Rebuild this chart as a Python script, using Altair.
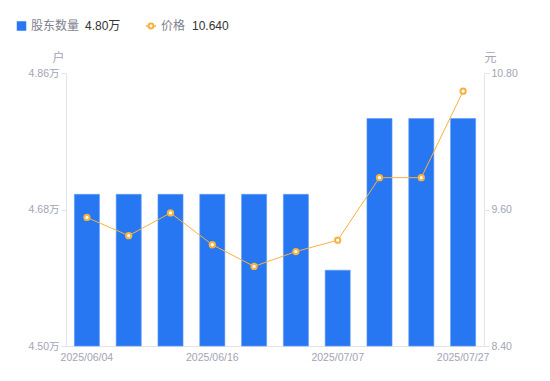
import altair as alt
import pandas as pd

dates = ["2025/06/04", "2025/06/09", "2025/06/12", "2025/06/16", "2025/06/20",
         "2025/06/30", "2025/07/07", "2025/07/10", "2025/07/18", "2025/07/27"]
holders = [4.70, 4.70, 4.70, 4.70, 4.70, 4.70, 4.60, 4.80, 4.80, 4.80]  # 万户
prices = [9.53, 9.37, 9.57, 9.29, 9.10, 9.23, 9.33, 9.88, 9.88, 10.64]
shown_dates = [dates[0], dates[3], dates[6], dates[9]]

FONT = "Liberation Sans, Noto Sans CJK SC, sans-serif"
BLUE = "#2877F2"
ORANGE = "#F6B23E"
AXIS_GRAY = "#E2E2E8"
LABEL_GRAY = "#A3A3B5"

df = pd.DataFrame({"date": dates, "holders": holders, "price": prices})

x_axis = alt.Axis(values=shown_dates, labelAngle=0, ticks=False, labelPadding=6,
                  domainColor=AXIS_GRAY, labelColor=LABEL_GRAY, labelFontSize=10.5,
                  labelFont=FONT, labelOverlap=False)
x_scale = alt.Scale(paddingInner=0.4, paddingOuter=0.2)


def X():
    return alt.X("date:N", sort=dates, title=None, scale=x_scale, axis=x_axis)


bars = alt.Chart(df).transform_calculate(base="4.5").mark_bar(
    color=BLUE, stroke="#5E9BF5", strokeWidth=0.6).encode(
    x=X(),
    y=alt.Y("holders:Q", scale=alt.Scale(domain=[4.50, 4.86], zero=False, nice=False),
            axis=alt.Axis(values=[4.50, 4.68, 4.86], grid=False, orient="left",
                          labelExpr="format(datum.value, '.2f') + '万'",
                          title="户", titleAngle=0, titleX=-8, titleY=-16,
                          titleAlign="center", titleBaseline="middle",
                          titleColor=LABEL_GRAY, titleFontWeight="normal", titleFontSize=12,
                          titleFont=FONT,
                          domainColor=AXIS_GRAY, tickColor=AXIS_GRAY, tickSize=5,
                          labelColor=LABEL_GRAY, labelFontSize=10.5, labelPadding=2,
                          labelFont=FONT)),
    y2=alt.Y2("base:Q"),
)

price_axis = alt.Axis(values=[8.4, 9.6, 10.8], grid=False, orient="right", format=".2f",
                      title="元", titleAngle=0, titleX=6, titleY=-16,
                      titleAlign="center", titleBaseline="middle",
                      titleColor=LABEL_GRAY, titleFontWeight="normal", titleFontSize=12,
                      titleFont=FONT,
                      domainColor=AXIS_GRAY, tickColor=AXIS_GRAY, tickSize=5,
                      labelColor=LABEL_GRAY, labelFontSize=10.5, labelPadding=2,
                      labelFont=FONT)
price_scale = alt.Scale(domain=[8.4, 10.8], zero=False, nice=False)

line = alt.Chart(df).mark_line(color=ORANGE, strokeWidth=1).encode(
    x=X(), y=alt.Y("price:Q", scale=price_scale, axis=price_axis))
pts = alt.Chart(df).mark_point(shape="circle", filled=True, fill="white", stroke=ORANGE,
                               strokeWidth=2, size=28, opacity=1).encode(
    x=X(), y=alt.Y("price:Q", scale=price_scale, axis=price_axis))

price_layer = alt.layer(line, pts)

# custom legend
leg_df = pd.DataFrame({"k": [0]})
LY = -47
sq = alt.Chart(leg_df).mark_square(color=BLUE, size=90, cornerRadius=2, opacity=1).encode(
    x=alt.value(-44.5), y=alt.value(LY))
t1 = alt.Chart(leg_df).mark_text(text="股东数量", align="left", baseline="middle",
                                 fontSize=12, color="#7F7F8E", font=FONT).encode(
    x=alt.value(-35), y=alt.value(LY))
t2 = alt.Chart(leg_df).mark_text(text=f"{holders[-1]:.2f}万", align="left", baseline="middle",
                                 fontSize=12, color="#333333", font=FONT).encode(
    x=alt.value(19), y=alt.value(LY))
lg_line = alt.Chart(leg_df).mark_rule(color=ORANGE, strokeWidth=1.5).encode(
    x=alt.value(80), x2=alt.value(90), y=alt.value(LY))
lg_pt = alt.Chart(leg_df).mark_point(shape="circle", filled=True, fill="white", stroke=ORANGE,
                                     strokeWidth=2, size=24, opacity=1).encode(
    x=alt.value(85), y=alt.value(LY))
t3 = alt.Chart(leg_df).mark_text(text="价格", align="left", baseline="middle",
                                 fontSize=12, color="#7F7F8E", font=FONT).encode(
    x=alt.value(95), y=alt.value(LY))
t4 = alt.Chart(leg_df).mark_text(text=f"{prices[-1]:.3f}", align="left", baseline="middle",
                                 fontSize=12, color="#333333", font=FONT).encode(
    x=alt.value(126), y=alt.value(LY))

legend = alt.layer(sq, t1, t2, lg_line, lg_pt, t3, t4)

chart = alt.layer(bars, price_layer, legend).resolve_scale(y="independent").properties(
    width=418, height=273,
    background="white",
    autosize=alt.AutoSizeParams(type="none"),
    padding={"left": 58, "top": 65, "right": 50, "bottom": 20},
).configure_view(stroke=None)

chart.save("out.html", embed_options={"renderer": "svg", "actions": False})
